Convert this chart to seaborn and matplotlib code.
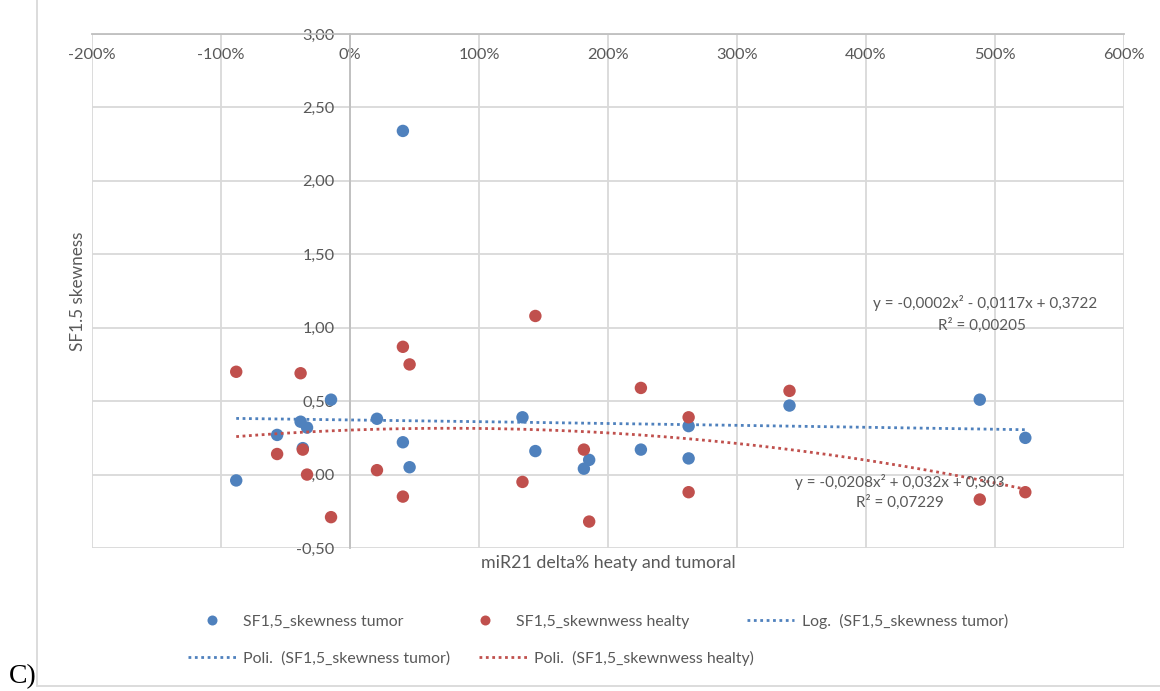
import numpy as np
import pandas as pd
import matplotlib
matplotlib.use("Agg")
import matplotlib.pyplot as plt
import seaborn as sns
from matplotlib.ticker import FuncFormatter, MultipleLocator
from matplotlib.lines import Line2D

# ---------------- data ----------------
mir21_delta_pct = [-88.2, -56.5, -38.3, -36.6, -33.3, -14.7, 20.9, 41.0, 41.0, 46.2,
                   133.7, 143.7, 181.3, 185.4, 225.5, 262.5, 262.5, 340.7, 488.2, 523.5]
skew_tumor = [-0.04, 0.27, 0.36, 0.18, 0.32, 0.51, 0.38, 2.34, 0.22, 0.05,
              0.39, 0.16, 0.04, 0.10, 0.17, 0.33, 0.11, 0.47, 0.51, 0.25]
skew_healty = [0.70, 0.14, 0.69, 0.17, 0.00, -0.29, 0.03, 0.87, -0.15, 0.75,
               -0.05, 1.08, 0.17, -0.32, 0.59, 0.39, -0.12, 0.57, -0.17, -0.12]

# trendline coefficients as printed on the chart (x in fraction units, 1 = 100%)
poly_tumor = [-0.0002, -0.0117, 0.3722]
poly_healty = [-0.0208, 0.032, 0.303]
eq_tumor = "y = -0,0002x² - 0,0117x + 0,3722"
r2_tumor = "R² = 0,00205"
eq_healty = "y = -0,0208x² + 0,032x + 0,303"
r2_healty = "R² = 0,07229"

legend_labels = ["SF1,5_skewness tumor", "SF1,5_skewnwess healty",
                 "Log.  (SF1,5_skewness tumor)", "Poli.  (SF1,5_skewness tumor)",
                 "Poli.  (SF1,5_skewnwess healty)"]
x_title = "miR21 delta% heaty and tumoral"
y_title = "SF1.5 skewness"

# ---------------- style ----------------
sns.set_theme(style="white")
plt.rcParams["font.family"] = ["Lato", "DejaVu Sans"]

BLUE = "#4F81BD"
RED = "#C0504D"
TXT = "#595959"
GRID = "#d9d9d9"
AXIS = "#bfbfbf"

W, H = 1160, 691
fig = plt.figure(figsize=(W / 100, H / 100), dpi=100)
fig.patch.set_facecolor("white")
L, R, T, B = 92, 1124, 34, 548
ax = fig.add_axes([L / W, 1 - B / H, (R - L) / W, (B - T) / H])
ax.set_facecolor("white")

df = pd.DataFrame({"x": mir21_delta_pct, "tumor": skew_tumor, "healty": skew_healty})

sns.scatterplot(data=df, x="x", y="tumor", color=BLUE, s=80, edgecolor="none",
                ax=ax, zorder=3, legend=False)
sns.scatterplot(data=df, x="x", y="healty", color=RED, s=80, edgecolor="none",
                ax=ax, zorder=3, legend=False)

xs = np.linspace(min(mir21_delta_pct), max(mir21_delta_pct), 300)
trend = pd.DataFrame({"x": xs,
                      "t": np.polyval(poly_tumor, xs / 100.0),
                      "h": np.polyval(poly_healty, xs / 100.0)})
sns.lineplot(data=trend, x="x", y="t", color=BLUE, lw=2.0, ls=(0, (1, 1.3)),
             ax=ax, zorder=4, sort=False, estimator=None)
sns.lineplot(data=trend, x="x", y="h", color=RED, lw=2.0, ls=(0, (1, 1.3)),
             ax=ax, zorder=4, sort=False, estimator=None)

ax.set_xlim(-200, 600)
ax.set_ylim(-0.5, 3.0)
ax.xaxis.set_major_locator(MultipleLocator(100))
ax.yaxis.set_major_locator(MultipleLocator(0.5))
ax.xaxis.set_major_formatter(FuncFormatter(lambda v, _: f"{v:.0f}%"))
ax.yaxis.set_major_formatter(FuncFormatter(lambda v, _: f"{v:.2f}".replace(".", ",")))
ax.grid(True, color=GRID, lw=1.3, zorder=0)
ax.set_axisbelow(True)

for s in ["bottom", "right"]:
    ax.spines[s].set_visible(False)
ax.spines["top"].set_color(AXIS)
ax.spines["top"].set_linewidth(1.3)
ax.spines["left"].set_position(("data", 0))
ax.spines["left"].set_color(AXIS)
ax.spines["left"].set_linewidth(1.3)

ax.xaxis.tick_top()
ax.tick_params(axis="x", length=0, pad=-20, labelsize=11.8, labelcolor=TXT)
ax.tick_params(axis="y", length=0, pad=11, labelsize=11.8, labelcolor=TXT)

ax.set_xlabel(x_title, fontsize=12.8, color=TXT)
ax.xaxis.set_label_position("bottom")
ax.xaxis.set_label_coords(0.5, -0.014)
ax.set_ylabel(y_title, fontsize=12.3, color=TXT)
ax.yaxis.set_label_coords(-0.006, 0.5)

# trendline equations
ax.text(492, 1.168, eq_tumor, ha="center", va="center", fontsize=11, color=TXT, zorder=5)
ax.text(490, 1.018, r2_tumor, ha="center", va="center", fontsize=11, color=TXT, zorder=5)
ax.text(426, -0.05, eq_healty, ha="center", va="center", fontsize=11, color=TXT, zorder=5)
ax.text(426, -0.186, r2_healty, ha="center", va="center", fontsize=11, color=TXT, zorder=5)

# legend (two rows like Excel)
dot = dict(marker="o", ls="none", markersize=7.2, markeredgewidth=0)
dotted = dict(lw=2.0, ls=(0, (1, 1.3)))
h1 = Line2D([], [], color=BLUE, label=legend_labels[0], **dot)
h2 = Line2D([], [], color=RED, label=legend_labels[1], **dot)
h3 = Line2D([], [], color=BLUE, label=legend_labels[2], **dotted)
h4 = Line2D([], [], color=BLUE, label=legend_labels[3], **dotted)
h5 = Line2D([], [], color=RED, label=legend_labels[4], **dotted)
common = dict(loc="center left", frameon=False, handlelength=3.0, handletextpad=0.5,
              fontsize=11.4, labelcolor=TXT, borderpad=0, borderaxespad=0)
fig.legend(handles=[h1, h2, h3], ncol=3, columnspacing=3.6,
           bbox_to_anchor=(188 / W, 1 - 621 / H), **common)
fig.legend(handles=[h4, h5], ncol=2, columnspacing=1.8,
           bbox_to_anchor=(188 / W, 1 - 658 / H), **common)

# chart area border and panel letter
fig.add_artist(Line2D([37 / W, 37 / W], [1 - 686 / H, 1], transform=fig.transFigure,
                      color=GRID, lw=1.3))
fig.add_artist(Line2D([37 / W, 1], [1 - 686 / H, 1 - 686 / H], transform=fig.transFigure,
                      color=GRID, lw=1.3))
fig.text(9 / W, 1 - 677 / H, "C)", fontsize=20, family=["Liberation Serif", "DejaVu Serif"],
         color="black", ha="left", va="center")

fig.savefig("out.png", dpi=100, facecolor="white")
